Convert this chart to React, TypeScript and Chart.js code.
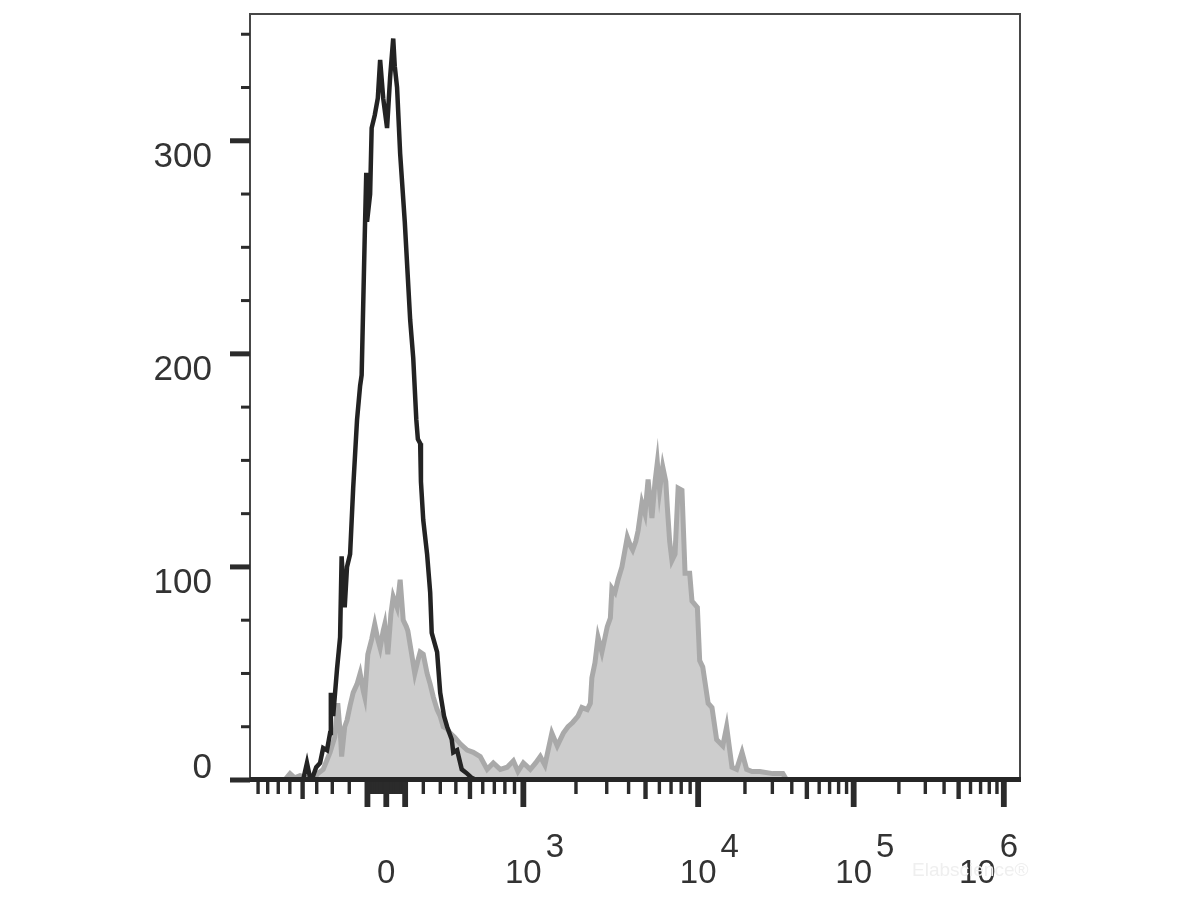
import React, { useEffect, useRef } from "react";
import { Chart, registerables } from "chart.js";

Chart.register(...registerables);

// ---- Data (x in display channels 0..1000, y in cell counts) ----
const controlChannels = [0, 65, 69, 74, 78, 82, 86, 91, 95, 100, 104, 105, 108, 113, 117, 119, 122, 123, 126, 130, 134, 139, 143, 145, 149, 151, 152, 156, 158, 162, 166, 169, 173, 178, 182, 186, 188, 191, 195, 201, 208, 212, 216, 218, 221, 222, 225, 230, 234, 236, 243, 247, 252, 256, 262, 264, 269, 273, 275, 282, 288, 294, 1000];
const controlCounts = [0, 0, 0, 8, 1, 2, 6, 8, 15, 14, 22, 41, 30, 52, 67, 105, 85, 81, 100, 106, 137, 169, 185, 190, 255, 285, 262, 275, 306, 312, 320, 338, 320, 306, 330, 348, 335, 325, 294, 262, 216, 198, 169, 160, 158, 140, 122, 106, 88, 69, 60, 41, 30, 25, 19, 13, 14, 8, 5, 3, 1, 0, 0];

const stainedChannels = [0, 45, 52, 58, 65, 82, 88, 95, 104, 110, 114, 118, 119, 123, 126, 130, 134, 139, 143, 147, 149, 153, 158, 162, 166, 169, 173, 175, 179, 183, 186, 191, 195, 199, 203, 205, 210, 214, 218, 221, 225, 230, 234, 238, 243, 247, 251, 256, 260, 266, 273, 282, 290, 299, 308, 316, 325, 334, 342, 348, 355, 364, 371, 377, 383, 392, 399, 407, 413, 419, 426, 431, 438, 442, 444, 448, 452, 457, 464, 468, 470, 474, 478, 483, 490, 494, 497, 501, 504, 509, 513, 517, 522, 526, 529, 532, 536, 540, 542, 545, 548, 552, 556, 561, 565, 571, 574, 581, 584, 588, 595, 600, 606, 614, 619, 626, 632, 639, 645, 652, 662, 679, 692, 697, 1000];
const stainedCounts = [0, 0, 3, 1, 2, 0, 3, 5, 13, 20, 36, 18, 11, 25, 28, 35, 41, 45, 50, 42, 39, 59, 66, 73, 66, 62, 70, 73, 59, 78, 86, 81, 94, 75, 72, 70, 59, 50, 56, 60, 59, 50, 45, 39, 33, 30, 25, 24, 22, 20, 17, 14, 13, 11, 5, 8, 5, 6, 9, 4, 8, 5, 8, 11, 7, 22, 16, 22, 25, 27, 30, 34, 33, 36, 48, 55, 67, 60, 72, 76, 90, 88, 94, 100, 114, 110, 108, 112, 117, 130, 125, 141, 123, 140, 149, 136, 147, 140, 128, 112, 103, 106, 137, 136, 97, 97, 84, 81, 56, 53, 36, 34, 19, 16, 25, 6, 5, 13, 5, 4, 4, 3, 3, 0, 0];

// ---- Axis definitions ----
const yMajorTicks = [0, 100, 200, 300];
const yMinorTicks = [25, 50, 75, 125, 150, 175, 225, 250, 275, 325, 350];
const yMax = 359.5;

// biexponential display: channel of 0 and of each positive decade
const zeroChannel = 177;
const decadeValues = [1e3, 1e4, 1e5, 1e6];
const decadeChannels = [355, 582, 784, 979];
const xMajorTicks = [-100, 0, 100, 1e3, 1e4, 1e5, 1e6];
const xMediumTicks = [-500, 500, 5e3, 5e4, 5e5];
const xMinorTicks = [
  -900, -800, -700, -600, -400, -300, -200,
  -90, -80, -70, -60, -50, -40, -30, -20, -10,
  10, 20, 30, 40, 50, 60, 70, 80, 90,
  200, 300, 400, 600, 700, 800, 900,
  2e3, 3e3, 4e3, 6e3, 7e3, 8e3, 9e3,
  2e4, 3e4, 4e4, 6e4, 7e4, 8e4, 9e4,
  2e5, 3e5, 4e5, 6e5, 7e5, 8e5, 9e5,
];
const xLabels: { value: number; base: string; exp: string }[] = [
  { value: 0, base: "0", exp: "" },
  { value: 1e3, base: "10", exp: "3" },
  { value: 1e4, base: "10", exp: "4" },
  { value: 1e5, base: "10", exp: "5" },
  { value: 1e6, base: "10", exp: "6" },
];

function toChannel(v: number): number {
  const span = decadeChannels[0] - zeroChannel;
  const a = Math.abs(v);
  if (a <= 1000) {
    return zeroChannel + Math.sign(v) * span * Math.asinh((2 * a) / 1000) / Math.asinh(2);
  }
  for (let i = 0; i < decadeValues.length - 1; i++) {
    if (a <= decadeValues[i + 1]) {
      const c = decadeChannels[i] + (decadeChannels[i + 1] - decadeChannels[i]) * Math.log10(a / decadeValues[i]);
      return v > 0 ? c : 2 * zeroChannel - c;
    }
  }
  return decadeChannels[decadeChannels.length - 1];
}

const FONT = '"Liberation Sans", Arial, Helvetica, sans-serif';

const axesPlugin = {
  id: "flowAxes",
  afterDraw(chart: any) {
    const ctx = chart.ctx as CanvasRenderingContext2D;
    const { left, right, top, bottom } = chart.chartArea;
    const xs = chart.scales.x;
    const ys = chart.scales.y;
    ctx.save();

    // frame
    ctx.strokeStyle = "#474747";
    ctx.lineWidth = 2;
    ctx.beginPath();
    ctx.moveTo(left, bottom);
    ctx.lineTo(left, top);
    ctx.lineTo(right, top);
    ctx.lineTo(right, bottom);
    ctx.stroke();

    // bottom axis line
    ctx.fillStyle = "#262626";
    ctx.fillRect(left, bottom - 3, right - left + 1, 5);

    // y ticks
    ctx.fillStyle = "#2b2b2b";
    yMajorTicks.forEach((v) => {
      const py = ys.getPixelForValue(v);
      ctx.fillRect(left - 20, py - 2.5, 20, 5);
    });
    yMinorTicks.forEach((v) => {
      const py = ys.getPixelForValue(v);
      ctx.fillRect(left - 9, py - 1.5, 9, 3);
    });

    // y labels
    ctx.fillStyle = "#333333";
    ctx.font = `35px ${FONT}`;
    ctx.textAlign = "right";
    ctx.textBaseline = "alphabetic";
    yMajorTicks.forEach((v) => {
      const py = ys.getPixelForValue(v);
      const base = v === 0 ? py - 2 : py + 26;
      ctx.fillText(String(v), left - 38, base);
    });

    // x ticks
    ctx.fillStyle = "#2b2b2b";
    const drawTick = (v: number, w: number, len: number) => {
      const px = xs.getPixelForValue(toChannel(v));
      if (px < left + 2 || px > right + 2) return;
      ctx.fillRect(px - w / 2, bottom + 2, w, len);
    };
    xMinorTicks.forEach((v) => drawTick(v, 3.4, 12));
    xMediumTicks.forEach((v) => drawTick(v, 4.4, 17));
    xMajorTicks.forEach((v) => drawTick(v, 5.8, 25));

    // x labels
    ctx.fillStyle = "#333333";
    ctx.font = `33px ${FONT}`;
    ctx.textAlign = "left";
    xLabels.forEach((l) => {
      const px = xs.getPixelForValue(toChannel(l.value));
      const bw = ctx.measureText(l.base).width;
      const ew = l.exp ? ctx.measureText(l.exp).width : 0;
      let x0 = px - bw / 2;
      const total = bw + (l.exp ? 4 + ew : 0);
      if (x0 + total > right - 2) x0 = right - 2 - total;
      ctx.fillText(l.base, x0, 883);
      if (l.exp) ctx.fillText(l.exp, x0 + bw + 4, 857);
    });

    // watermark
    ctx.fillStyle = "#efefef";
    ctx.font = `19px ${FONT}`;
    ctx.fillText("Elabscience®", 912, 876);

    ctx.restore();
  },
};

export default function App() {
  const ref = useRef<HTMLCanvasElement | null>(null);
  useEffect(() => {
    if (!ref.current) return;
    const stained = stainedChannels.map((c, i) => ({ x: c, y: stainedCounts[i] }));
    const control = controlChannels.map((c, i) => ({ x: c, y: controlCounts[i] }));
    const chart = new Chart(ref.current, {
      type: "line",
      data: {
        datasets: [
          {
            label: "Stained",
            data: stained,
            borderColor: "#a9a9a9",
            backgroundColor: "#cdcdcd",
            borderWidth: 5,
            fill: "origin",
            pointRadius: 0,
            tension: 0,
            order: 2,
          },
          {
            label: "Isotype",
            data: control,
            borderColor: "#232323",
            borderWidth: 4.5,
            fill: false,
            pointRadius: 0,
            tension: 0,
            order: 1,
          },
        ],
      },
      options: {
        animation: false,
        responsive: false,
        devicePixelRatio: 1,
        layout: { padding: { left: 250, right: 180, top: 14, bottom: 120 } },
        plugins: { legend: { display: false }, tooltip: { enabled: false } },
        scales: {
          x: { type: "linear", min: 0, max: 1000, display: false },
          y: { type: "linear", min: 0, max: yMax, display: false },
        },
      },
      plugins: [axesPlugin],
    });
    return () => chart.destroy();
  }, []);
  return (
    <div style={{ position: "absolute", left: 0, top: 0, width: 1200, height: 900, background: "#ffffff" }}>
      <canvas ref={ref} width={1200} height={900} style={{ display: "block" }} />
    </div>
  );
}
